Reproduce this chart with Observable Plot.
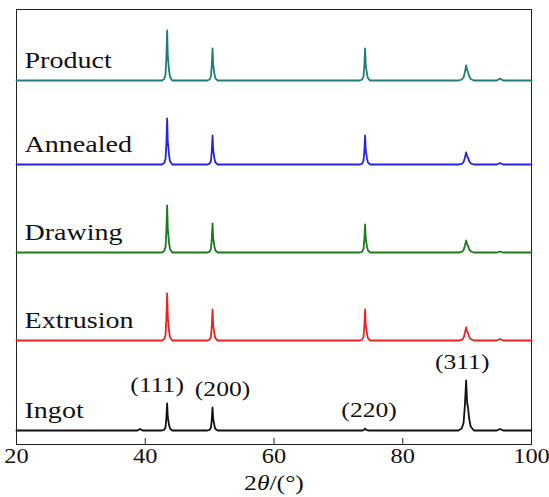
<!DOCTYPE html>
<html><head><meta charset="utf-8">
<script src="https://cdn.jsdelivr.net/npm/d3@7"></script>
<script src="https://cdn.jsdelivr.net/npm/@observablehq/plot@0.6"></script>
<style>body{margin:0;background:#fff}</style>
</head><body><div id="chart"></div>
<script>
// XRD patterns (intensity in a.u.), stacked with waterfall offsets
const seriesNames = ["Ingot", "Extrusion", "Drawing", "Annealed", "Product"];
const seriesColors = ["#111111", "#ee2020", "#1b7a1b", "#2424e8", "#1e7d78"];
const offsets = [0, 90, 178, 266, 350];
const xTicks = [20, 40, 60, 80, 100];
const hklLabels = ["(111)", "(200)", "(220)", "(311)"];
const hklTwoTheta = [43.4, 50.45, 74.15, 89.85];

const twoTheta = [
  20, 30, 38.8, 39.2, 39.6,
  42.6, 42.95, 43.15, 43.28, 43.4, 43.5, 43.6, 43.7, 43.85, 44.2,
  49.65, 50.0, 50.2, 50.33, 50.45, 50.55, 50.65, 50.75, 50.9, 51.25,
  73.35, 73.7, 73.9, 74.03, 74.15, 74.25, 74.35, 74.45, 74.6, 74.95,
  88.65, 89.15, 89.45, 89.65, 89.85, 90.0, 90.15, 90.3, 90.55, 91.05,
  94.6, 95.1, 95.6, 100
];
const ingot = [
  0, 0, 0, 1.5, 0,
  0, 0.8, 3.2, 12.2, 27, 13.5, 9.5, 5.4, 1.9, 0,
  0, 0.7, 2.8, 10.4, 23, 11.5, 8, 4.6, 1.6, 0,
  0, 0, 0.3, 1, 2, 1.2, 0.8, 0.4, 0, 0,
  0, 2, 7.5, 25, 50, 27.5, 22.5, 12.5, 4, 0,
  0, 1.5, 0, 0
];
const extrusion = [
  0, 0, 0, 0, 0,
  0, 1.4, 5.6, 21.2, 47, 23.5, 16.5, 9.4, 3.3, 0,
  0, 0.9, 3.7, 14, 31, 15.5, 10.9, 6.2, 2.2, 0,
  0, 0.9, 3.7, 14, 31, 15.5, 10.9, 6.2, 2.2, 0,
  0, 0.7, 2.6, 7.2, 13, 9.1, 7.2, 3.9, 1.3, 0,
  0, 1.5, 0, 0
];
const drawing = [
  0, 0, 0, 0, 0,
  0, 1.4, 5.6, 21.2, 47, 23.5, 16.5, 9.4, 3.3, 0,
  0, 0.9, 3.5, 13, 29, 14.5, 10.2, 5.8, 2, 0,
  0, 0.8, 3.4, 12.6, 28, 14, 9.8, 5.6, 2, 0,
  0, 0.6, 2.4, 6.6, 12, 8.4, 6.6, 3.6, 1.2, 0,
  0, 1, 0, 0
];
const annealed = [
  0, 0, 0, 0, 0,
  0, 1.4, 5.5, 20.7, 46, 23, 16.1, 9.2, 3.2, 0,
  0, 0.9, 3.5, 13, 29, 14.5, 10.2, 5.8, 2, 0,
  0, 0.9, 3.5, 13, 29, 14.5, 10.2, 5.8, 2, 0,
  0, 0.6, 2.4, 6.6, 12, 8.4, 6.6, 3.6, 1.2, 0,
  0, 1.5, 0, 0
];
const product = [
  0, 0, 0, 0, 0,
  0, 1.5, 6, 22.5, 50, 25, 17.5, 10, 3.5, 0,
  0, 1, 4, 14.4, 32, 16, 11.2, 6.4, 2.2, 0,
  0, 1, 4, 14.4, 32, 16, 11.2, 6.4, 2.2, 0,
  0, 0.8, 3, 8.3, 15, 10.5, 8.3, 4.5, 1.5, 0,
  0, 2, 0, 0
];
const seriesValues = [ingot, extrusion, drawing, annealed, product];

const font = "'Liberation Serif', 'Times New Roman', serif";

const lineMarks = seriesNames.map((name, i) =>
  Plot.line(twoTheta.map((t, j) => ({t, v: seriesValues[i][j] + offsets[i]})),
    {x: "t", y: "v", stroke: seriesColors[i], strokeWidth: 1.8, curve: "linear"})
);
const labelRows = seriesNames.map((name, i) => ({name, off: offsets[i]}));
const hklDx = [-10, 10, 4, -4];
const hklMarks = hklLabels.map((lab, k) => {
  const j = twoTheta.indexOf(hklTwoTheta[k]);
  return Plot.text([{t: hklTwoTheta[k], v: ingot[j], lab}],
    {x: "t", y: "v", text: "lab", dx: hklDx[k], dy: -12, lineAnchor: "bottom", fontSize: 21, fill: "#111"});
});

const chart = Plot.plot({
  width: 549, height: 497,
  marginTop: 9, marginBottom: 53, marginLeft: 16, marginRight: 18,
  style: {fontFamily: font, background: "white", color: "#111"},
  x: {domain: [20, 100]},
  y: {domain: [-14, 421], axis: null},
  marks: [
    Plot.frame({stroke: "#222", strokeWidth: 1}),
    Plot.tickX(xTicks.slice(1, -1), {x: d => d, insetTop: 429, stroke: "#222"}),
    Plot.axisX(xTicks, {tickSize: 0, tickPadding: 4, fontSize: 20, label: null}),
    ...lineMarks,
    Plot.text(labelRows, {frameAnchor: "left", dx: 8, y: "off", dy: -13, text: "name",
      textAnchor: "start", lineAnchor: "bottom", fontSize: 23, fill: "#111"}),
    ...hklMarks,
    Plot.text(["2θ/(°)"], {frameAnchor: "bottom", dy: 39, text: d => d, fontSize: 21, lineAnchor: "middle", fill: "#111"})
  ]
});
document.getElementById("chart").appendChild(chart);
// italic theta in the axis title
d3.select(chart).selectAll("text").filter(function () { return this.textContent === "2θ/(°)"; })
  .each(function () {
    const el = d3.select(this);
    el.text(null);
    el.append("tspan").text("2");
    el.append("tspan").attr("font-style", "italic").text("θ");
    el.append("tspan").text("/(°)");
  });
// the reference typeface is set a little wider: stretch text horizontally around its anchor
d3.select(chart).selectAll("text").each(function () {
  const b = this.getBBox();
  if (!b.width) return;
  const anchor = getComputedStyle(this).textAnchor;
  const ax = anchor === "start" ? b.x : anchor === "end" ? b.x + b.width : b.x + b.width / 2;
  const s = 1.22;
  const t = this.getAttribute("transform") || "";
  this.setAttribute("transform", `${t} translate(${ax},0) scale(${s},1) translate(${-ax},0)`);
});
</script>
</body></html>
